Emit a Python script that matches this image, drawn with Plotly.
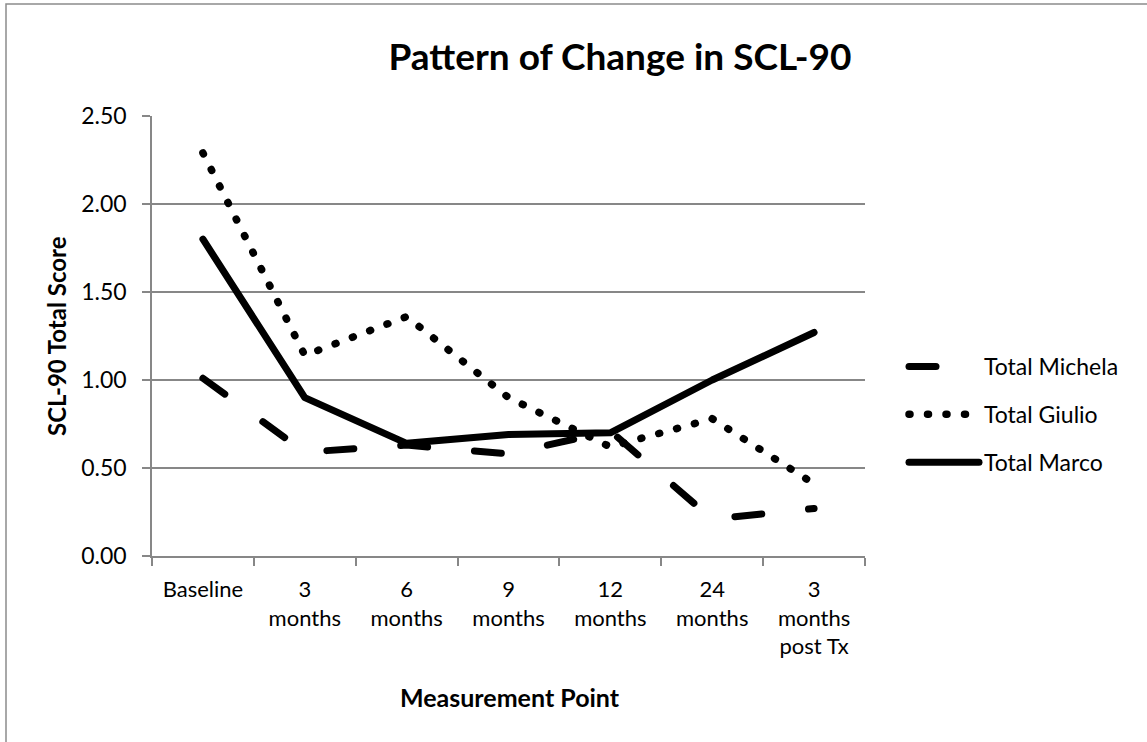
import plotly.graph_objects as go

categories = ["Baseline", "3<br>months", "6<br>months", "9<br>months", "12<br>months",
              "24<br>months", "3<br>months<br>post Tx"]
michela = [1.01, 0.59, 0.63, 0.58, 0.71, 0.21, 0.27]
giulio = [2.29, 1.14, 1.36, 0.90, 0.62, 0.78, 0.41]
marco = [1.80, 0.90, 0.64, 0.69, 0.70, 1.00, 1.27]
y_ticks = [0, 0.5, 1.0, 1.5, 2.0, 2.5]
y_tick_text = ["0.00", "0.50", "1.00", "1.50", "2.00", "2.50"]

W, H = 1147, 742
L, R, T, B = 152, 282, 116, 186
pw, ph = W - L - R, H - T - B

FONT = "Lato, 'Open Sans', sans-serif"
GRID = "#878787"

fig = go.Figure()
fig.add_trace(go.Scatter(x=categories, y=michela, mode="lines", name="Total Michela",
                         legendgroup="a",
                         line=dict(color="black", width=7, dash="27px,47px")))
fig.add_trace(go.Scatter(x=categories, y=giulio, mode="lines", name="Total Giulio",
                         legendgroup="b",
                         line=dict(color="black", width=7.5, dash="1px,17.5px")))
fig.add_trace(go.Scatter(x=categories, y=marco, mode="lines", name="Total Marco",
                         legendgroup="c",
                         line=dict(color="black", width=7)))

def px_x(p):
    return (p - L) / pw

def px_y(p):
    return (H - B - p) / ph

fig.update_layout(
    width=W, height=H,
    margin=dict(l=L, r=R, t=T, b=B, autoexpand=False),
    paper_bgcolor="white", plot_bgcolor="white",
    font=dict(family=FONT, size=23, color="black"),
    title=dict(text="<b>Pattern of Change in SCL-90</b>", x=620 / W, xanchor="center",
               y=1 - 57 / H, yanchor="middle", xref="container", yref="container",
               font=dict(family=FONT, size=37, color="black")),
    xaxis=dict(type="category", showgrid=False, showline=True, linecolor=GRID, linewidth=1.5,
               ticks="outside", tickson="boundaries", ticklen=8, tickcolor=GRID, tickwidth=1.5,
               ticklabelstandoff=13,
               tickfont=dict(family=FONT, size=22, color="black"), fixedrange=True,
               range=[-0.5, 6.5]),
    yaxis=dict(range=[0, 2.5], tickvals=y_ticks, ticktext=y_tick_text, showgrid=True,
               gridcolor=GRID, gridwidth=1.5, showline=True, linecolor=GRID, linewidth=1.5,
               ticks="outside", ticklen=8, tickcolor=GRID, tickwidth=1.5, zeroline=False,
               ticklabelstandoff=11,
               tickfont=dict(family=FONT, size=23, color="black")),
    showlegend=True,
    legend=dict(x=px_x(904), y=px_y(345), xanchor="left", yanchor="top",
                font=dict(family=FONT, size=23, color="black"),
                tracegroupgap=15, itemwidth=70, bgcolor="rgba(0,0,0,0)"),
    annotations=[
        dict(text="<b>SCL-90 Total Score</b>", xref="paper", yref="paper",
             x=px_x(56), y=0.5, textangle=-90, showarrow=False,
             font=dict(family=FONT, size=24, color="black"), xanchor="center", yanchor="middle"),
        dict(text="<b>Measurement Point</b>", xref="paper", yref="paper",
             x=px_x(510), y=px_y(697), showarrow=False,
             font=dict(family=FONT, size=25, color="black"), xanchor="center", yanchor="middle"),
    ],
    shapes=[
        dict(type="rect", xref="paper", yref="paper", x0=px_x(6), y0=px_y(780),
             x1=px_x(1180), y1=px_y(4), line=dict(color="#8c8c8c", width=1.5),
             fillcolor="rgba(0,0,0,0)", layer="below"),
    ],
)

post = """
document.body.style.margin = '0';
var gd = document.getElementById('{plot_id}');
gd.querySelectorAll('.scatterlayer .js-line, .legend .js-line').forEach(function (p) {
    p.style.strokeLinecap = 'round';
    p.style.strokeLinejoin = 'round';
});
"""

fig.write_html("out.html", post_script=post, config={"displayModeBar": False})
